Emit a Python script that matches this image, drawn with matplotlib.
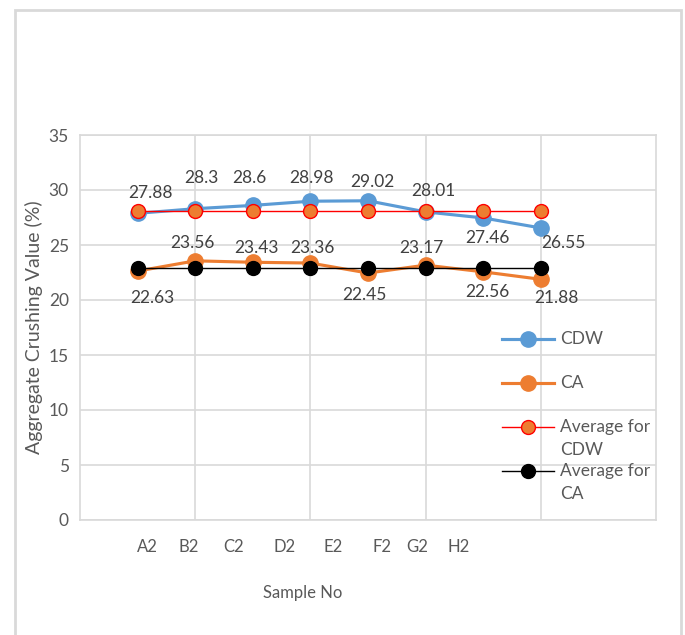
import matplotlib.pyplot as plt
from matplotlib.patches import Rectangle
from matplotlib.lines import Line2D
import numpy as np

plt.rcParams['font.family'] = ['Lato', 'DejaVu Sans']

samples = ['A2', 'B2', 'C2', 'D2', 'E2', 'F2', 'G2', 'H2']
cdw = [27.88, 28.3, 28.6, 28.98, 29.02, 28.01, 27.46, 26.55]
ca = [22.63, 23.56, 23.43, 23.36, 22.45, 23.17, 22.56, 21.88]
avg_cdw = [28.1] * 8
avg_ca = [22.88] * 8
# label offsets in points (dx, dy)
cdw_off = [(9.4, 14.4), (4.3, 22), (-2.2, 19.7), (0.7, 16.6), (2.9, 13.7),
           (5.8, 15), (2.9, -14.4), (16.6, -10.8)]
ca_off = [(10.8, -19.4), (-2.2, 12.8), (2.9, 10.3), (1.4, 10.8), (-2.9, -15.8),
          (-2.9, 12.2), (2.9, -14.4), (11.5, -13.7)]
# category label positions (the labels sit loosely under the axis)
label_pos = [1.17, 1.88, 2.66, 3.55, 4.40, 5.24, 5.85, 6.58]

x = np.arange(1, 9)
TXT = '#595959'
LBL = '#404040'
FS = 12.5

fig = plt.figure(figsize=(6.85, 6.35), dpi=100)
ax = fig.add_axes([80/685, 1-520/635, 576/685, 385/635])

styles = [
    dict(color='#5B9BD5', lw=2.25, marker='o', ms=11, mfc='#5B9BD5', mec='#5B9BD5'),
    dict(color='#ED7D31', lw=2.25, marker='o', ms=11, mfc='#ED7D31', mec='#ED7D31'),
    dict(color='#FF0000', lw=1, marker='o', ms=10, mfc='#ED7D31', mec='#FF0000', mew=1),
    dict(color='black', lw=1, marker='o', ms=10, mfc='black', mec='black'),
]
series = [cdw, ca, avg_cdw, avg_ca]
names = [['CDW'], ['CA'], ['Average for', 'CDW'], ['Average for', 'CA']]

for i, (vals, st) in enumerate(zip(series, styles)):
    ax.plot(x, vals, zorder=3 + i, **st)

for xi, v, (dx, dy) in zip(x, cdw, cdw_off):
    ax.annotate(f'{v:g}', (xi, v), xytext=(dx, dy), textcoords='offset points',
                ha='center', va='center', fontsize=FS, color=LBL)
for xi, v, (dx, dy) in zip(x, ca, ca_off):
    ax.annotate(f'{v:g}', (xi, v), xytext=(dx, dy), textcoords='offset points',
                ha='center', va='center', fontsize=FS, color=LBL)

ax.set_xlim(0, 10)
ax.set_ylim(0, 35)
ax.set_yticks(range(0, 36, 5))
ax.set_xticks([2, 4, 6, 8])
ax.tick_params(axis='x', labelbottom=False, length=0)
ax.tick_params(axis='y', length=0, labelsize=FS, labelcolor=TXT, pad=8)
ax.grid(True, color='#D9D9D9', lw=1.2)
ax.set_axisbelow(True)
for s in ax.spines.values():
    s.set_color('#D9D9D9')
    s.set_linewidth(1.2)

for p, s in zip(label_pos, samples):
    ax.text(p, -2.45, s, ha='center', va='center', fontsize=12, color=TXT)
ax.text(3.87, -6.64, 'Sample No', ha='center', va='center', fontsize=12, color=TXT)
ax.set_ylabel('Aggregate Crushing Value (%)', fontsize=14, color=TXT, labelpad=4)

# legend drawn by hand so the marker lines up with the first text line
leg_y = [0.470, 0.356, 0.2416, 0.127]
for yy, st, lines in zip(leg_y, styles, names):
    ax.add_line(Line2D([0.733, 0.823], [yy, yy], transform=ax.transAxes,
                       markevery=[], clip_on=False, zorder=8, **st))
    ax.add_line(Line2D([0.778], [yy], transform=ax.transAxes, clip_on=False,
                       zorder=9, **st))
    for k, line in enumerate(lines):
        ax.text(0.833, yy - k * 23/385, line, transform=ax.transAxes, ha='left',
                va='center', fontsize=FS, color=TXT)

fig.patches.append(Rectangle((15/685, -0.05), 666/685, 1.05 - 10/635,
                             transform=fig.transFigure, fill=False,
                             edgecolor='#D9D9D9', lw=2))

fig.savefig('out.png', dpi=100)
